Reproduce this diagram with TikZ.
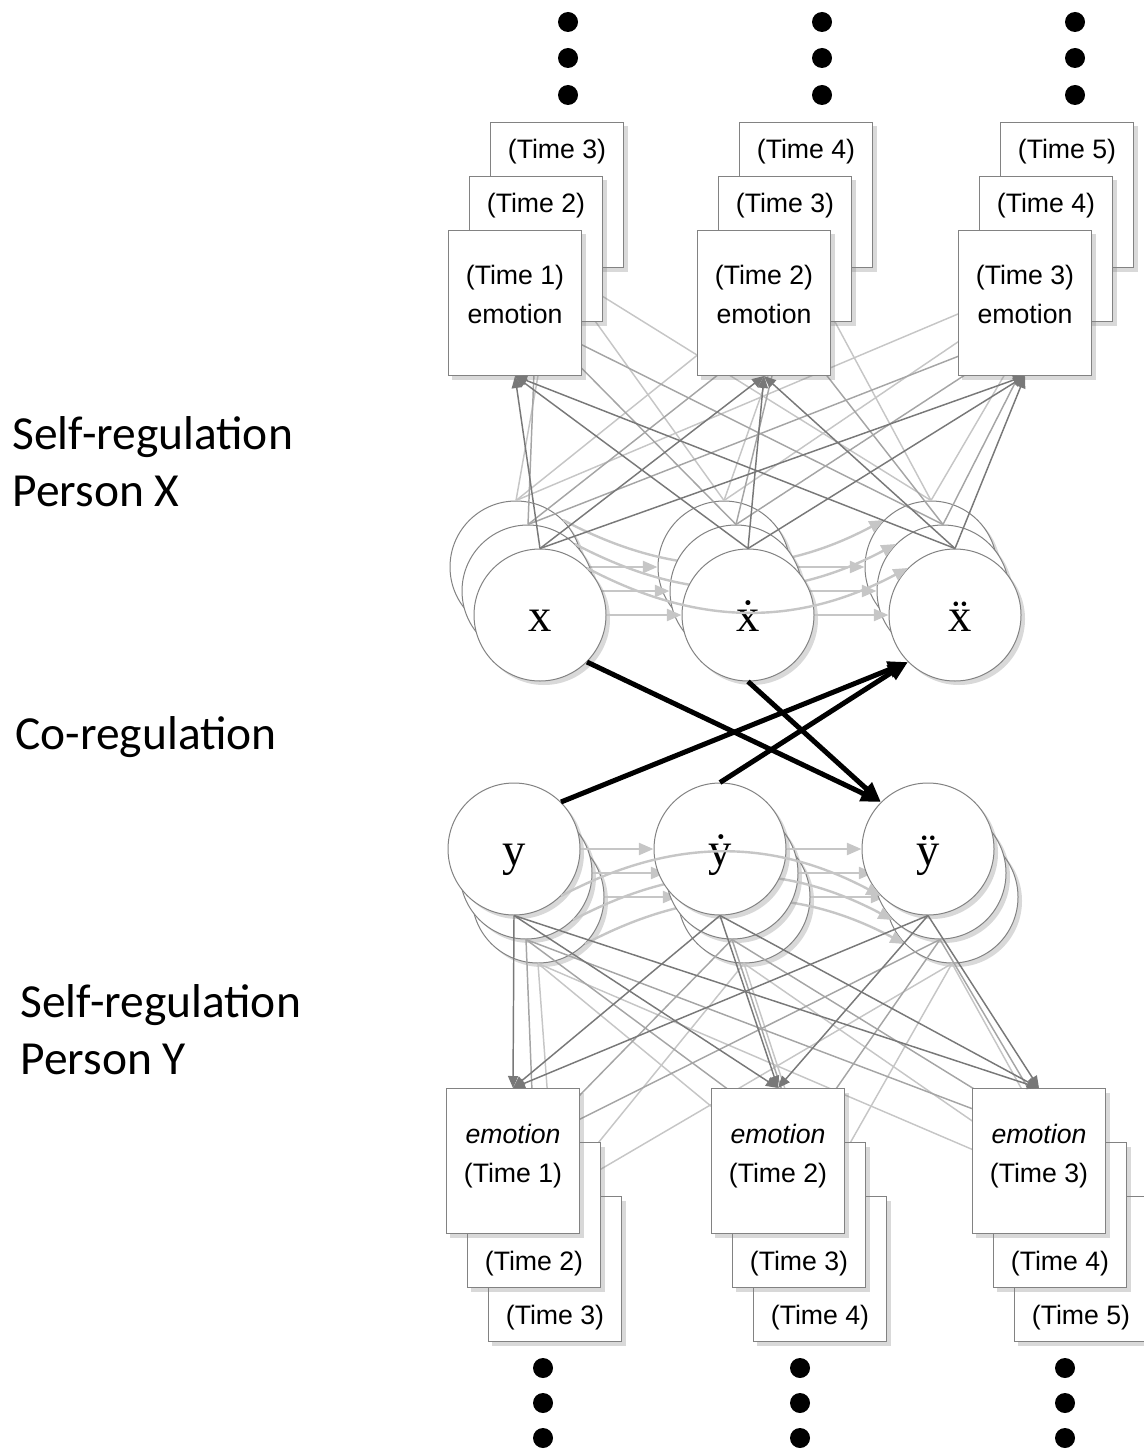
\documentclass[tikz,border=0pt]{standalone}
\usepackage{fontspec}
\setmainfont{Liberation Sans}
\newfontfamily\labelfont{Carlito}
\newfontfamily\circfont{Liberation Serif}
\usetikzlibrary{arrows.meta,shadows}

\definecolor{laydark}{RGB}{120,120,120}
\definecolor{laymid}{RGB}{165,165,165}
\definecolor{laylight}{RGB}{198,198,198}
\definecolor{rimgray}{RGB}{130,130,130}

\tikzset{every picture/.style={line width=0.75pt}}
\tikzset{
  timebox/.style={draw=rimgray, fill=white, minimum width=100pt, minimum height=108.75pt, inner sep=0pt,
    drop shadow={shadow xshift=3pt, shadow yshift=-3pt, opacity=0.3}},
  timetext/.style={font=\fontsize{20}{29}\selectfont, inner sep=0pt, align=center},
  ringnode/.style={circle, draw=rimgray, fill=white, minimum size=99pt, inner sep=0pt,
    font=\circfont\fontsize{35}{35}\selectfont, text height=24pt, text depth=0pt,
    drop shadow={shadow xshift=3pt, shadow yshift=-3pt, opacity=0.3}},
  link/.style={draw=#1, line width=1.1pt, -{Triangle[length=9pt,width=7.5pt]}},
  flowlink/.style={draw=laylight, line width=1.8pt, -{Triangle[length=11pt,width=9pt]}},
  boldlink/.style={draw=black, line width=3.75pt, -{Triangle[length=15pt,width=12pt]}},
  sidelabel/.style={font=\labelfont\fontsize{35.6}{42.75}\selectfont, anchor=west, align=left, inner sep=0pt}
}

\begin{document}
\begin{tikzpicture}[x=0.75pt,y=0.75pt,yscale=-1,xscale=1]
\useasboundingbox (0,0) rectangle (1144,1455);

% Text Node
\node[sidelabel] (selfx) at (12,462) {Self-regulation\\Person X};
% Text Node
\node[sidelabel] (coreg) at (15,737) {Co-regulation};
% Text Node
\node[sidelabel] (selfy) at (20,1030) {Self-regulation\\Person Y};

%Dots above and below
\foreach \cx in {568,822,1075}
  \foreach \cy in {22,58,95}
    \fill (\cx,\cy) circle [radius=10];
\foreach \cx in {543,800,1065}
  \foreach \cy in {1368,1403,1438}
    \fill (\cx,\cy) circle [radius=10];

% layers, back to front
\foreach \k/\shade in {2/laylight,1/laymid,0/laydark}{
  %Shape: Rectangle (emotion boxes, person X)
  \foreach \j/\cx in {1/515,2/764,3/1025}{
    \pgfmathtruncatemacro{\t}{\j+\k}
    \node[timebox] (tb-\j-\k) at ({\cx+21*\k},{303-54*\k}) {};
    \ifnum\k=0
      \node[timetext] (tt-\j-\k) at (\cx,294.5) {(Time \j)\\emotion};
    \else
      \node[timetext] (tt-\j-\k) at ({\cx+21*\k},{303-54*\k-43}) {(Time \t)};
    \fi
  }
  %Shape: Circle (x, x dot, x double dot)
  \node[ringnode] (x-\k) at ({540-12*\k},{615-24*\k}) {\ifnum\k=0 x\fi};
  \node[ringnode] (dx-\k) at ({748-12*\k},{615-24*\k}) {\ifnum\k=0 ẋ\fi};
  \node[ringnode] (ddx-\k) at ({955-12*\k},{615-24*\k}) {\ifnum\k=0 \hspace{8pt}ẍ\fi};
  %Straight Lines
  \foreach \src in {x,dx,ddx}
    \foreach \j in {1,2,3}
      \draw[link=\shade] (\src-\k.north) -- (tb-\j-\k.south);
  \draw[flowlink] (x-\k) -- (dx-\k);
  \draw[flowlink] (dx-\k) -- (ddx-\k);
  \draw[flowlink] (x-\k.north east) to[bend left=28] (ddx-\k.north west);

  %Shape: Rectangle (emotion boxes, person Y)
  \foreach \j/\cx in {1/513,2/778,3/1039}{
    \pgfmathtruncatemacro{\t}{\j+\k}
    \node[timebox] (bb-\j-\k) at ({\cx+21*\k},{1161+54*\k}) {};
    \ifnum\k=0
      \node[timetext] (bt-\j-\k) at (\cx,1156) {\textit{emotion}\\(Time \j)};
    \else
      \node[timetext] (bt-\j-\k) at ({\cx+21*\k},{1161+54*\k+49}) {(Time \t)};
    \fi
  }
  %Shape: Circle (y, y dot, y double dot)
  \node[ringnode] (y-\k) at ({514+12*\k},{849+24*\k}) {\ifnum\k=0 y\fi};
  \node[ringnode] (dy-\k) at ({720+12*\k},{849+24*\k}) {\ifnum\k=0 ẏ\fi};
  \node[ringnode] (ddy-\k) at ({928+12*\k},{849+24*\k}) {\ifnum\k=0 ÿ\fi};
  %Straight Lines
  \foreach \src in {y,dy,ddy}
    \foreach \j in {1,2,3}
      \draw[link=\shade] (\src-\k.south) -- (bb-\j-\k.north);
  \draw[flowlink] (y-\k) -- (dy-\k);
  \draw[flowlink] (dy-\k) -- (ddy-\k);
  \draw[flowlink] (y-\k.south east) to[bend right=28] (ddy-\k.south west);
}

% co-regulation arrows
\draw[boldlink] (x-0.south east) -- (ddy-0.north west);
\draw[boldlink] (dx-0.south) -- (ddy-0.north west);
\draw[boldlink] (y-0.north east) -- (ddx-0.south west);
\draw[boldlink] (dy-0.north) -- (ddx-0.south west);

\end{tikzpicture}
\end{document}
